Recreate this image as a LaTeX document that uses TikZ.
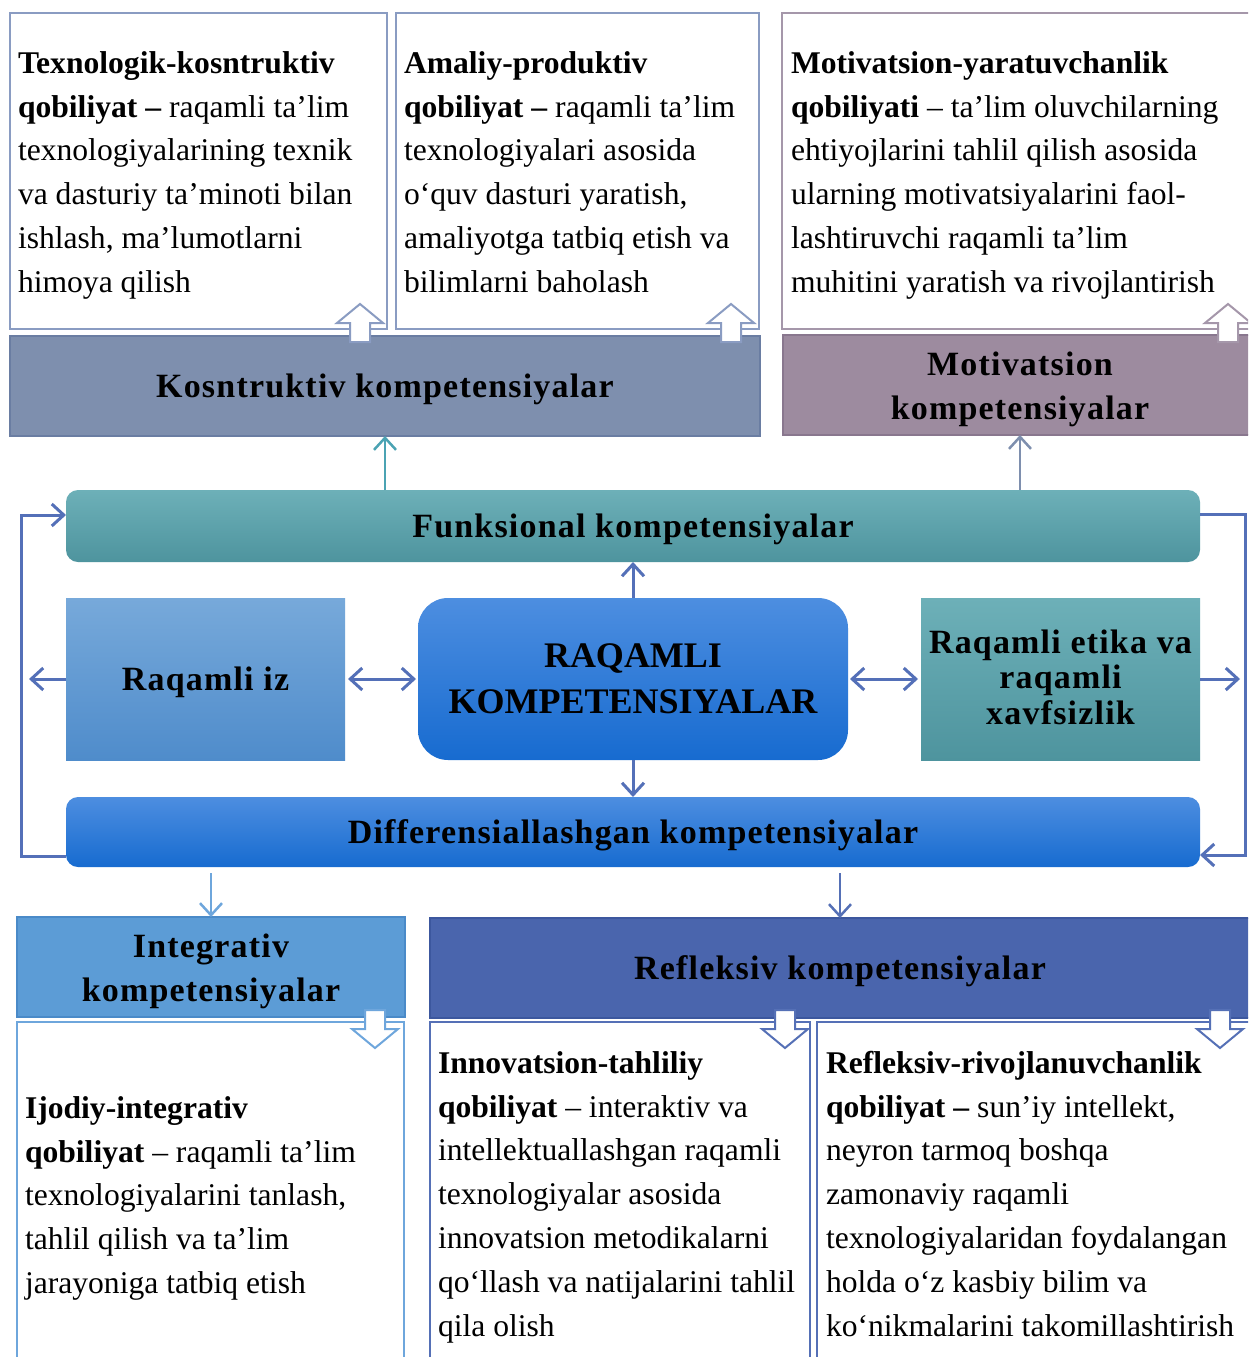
\documentclass[tikz,border=0pt]{standalone}
\usepackage{fontspec}
\setmainfont{Liberation Serif}
\newfontfamily\barfont[LetterSpace=3.5]{Liberation Serif}
\usetikzlibrary{arrows.meta}
\definecolor{boxline}{HTML}{8A9CC2}
\definecolor{kosfill}{HTML}{7E8FAE}
\definecolor{kosdraw}{HTML}{6A7DA2}
\definecolor{motline}{HTML}{A597AA}
\definecolor{motfill}{HTML}{9D8B9F}
\definecolor{motdraw}{HTML}{89778E}
\definecolor{funktop}{HTML}{6DB0B8}
\definecolor{funkbot}{HTML}{4E949E}
\definecolor{iztop}{HTML}{77A9DA}
\definecolor{izbot}{HTML}{4F8CCB}
\definecolor{centtop}{HTML}{4D8EE0}
\definecolor{centbot}{HTML}{176BD0}
\definecolor{connblue}{HTML}{5470B8}
\definecolor{tealarr}{HTML}{4BA3B3}
\definecolor{intfill}{HTML}{5C9CD6}
\definecolor{intdraw}{HTML}{4A8AC8}
\definecolor{intline}{HTML}{6EA6DC}
\definecolor{reffill}{HTML}{4A65AD}
\definecolor{refdraw}{HTML}{3C579E}
\definecolor{refline}{HTML}{5570B6}
\tikzset{
  >={Straight Barb[length=12pt,width=22pt]},
  pics/hollowup/.style={code={\draw[line width=2pt,draw=#1,fill=white,line join=miter]
     (-10,0) -- (-10,-19) -- (-23,-19) -- (0,-38) -- (23,-19) -- (10,-19) -- (10,0) -- cycle;}},
  pics/hollowdown/.style={code={\draw[line width=2pt,draw=#1,fill=white,line join=miter]
     (-10,0) -- (-10,19) -- (-23,19) -- (0,38) -- (23,19) -- (10,19) -- (10,0) -- cycle;}},
}
\begin{document}
\begin{tikzpicture}[x=1pt,y=-1pt,
  every node/.style={inner sep=0pt,outer sep=0pt},
  descbox/.style={draw=#1,line width=2.5pt,fill=white,rectangle},
  bartitle/.style={font=\barfont\bfseries\fontsize{34}{44}\selectfont,align=center},
  desctext/.style={font=\fontsize{31.6}{43.8}\selectfont,align=left,anchor=north west},
  conn/.style={draw=connblue,line width=3pt},
]
\path[use as bounding box,clip] (0,0) rectangle (1248,1357);
\fill[white] (0,0) rectangle (1248,1357);

% top description boxes
\node[descbox=boxline,minimum width=377pt,minimum height=316pt] (boxA) at (198.5,171) {};
\node[descbox=boxline,minimum width=363pt,minimum height=316pt] (boxB) at (577.5,171) {};
\node[descbox=motline,minimum width=475pt,minimum height=316pt] (boxC) at (1019.5,171) {};

\node[desctext] (txtA) at (18,42.6) {\strut\textbf{Texnologik-kosntruktiv}\\
\textbf{qobiliyat –} raqamli ta’lim\\
texnologiyalarining texnik\\
va dasturiy ta’minoti bilan\\
ishlash, ma’lumotlarni\\
himoya qilish};
\node[desctext] (txtB) at (404,42.6) {\strut\textbf{Amaliy-produktiv}\\
\textbf{qobiliyat –} raqamli ta’lim\\
texnologiyalari asosida\\
o‘quv dasturi yaratish,\\
amaliyotga tatbiq etish va\\
bilimlarni baholash};
\node[desctext] (txtC) at (791,42.6) {\strut\textbf{Motivatsion-yaratuvchanlik}\\
\textbf{qobiliyati} – ta’lim oluvchilarning\\
ehtiyojlarini tahlil qilish asosida\\
ularning motivatsiyalarini faol-\\
lashtiruvchi raqamli ta’lim\\
muhitini yaratish va rivojlantirish};

% top bars
\node[draw=kosdraw,fill=kosfill,line width=2.5pt,minimum width=750pt,minimum height=100pt,
      bartitle,text depth=0pt] (kos) at (385,386) {Kosntruktiv kompetensiyalar};
\node[draw=motdraw,fill=motfill,line width=2.5pt,minimum width=474pt,minimum height=100pt] (mot) at (1020,385) {};
\node[bartitle] (motT) at (1020,389) {Motivatsion\\kompetensiyalar};

\pic at (360,342) {hollowup=boxline};
\pic at (731,342) {hollowup=boxline};
\pic at (1228,342) {hollowup=motline};

% middle block
\node[rounded corners=12pt,top color=funktop,bottom color=funkbot,minimum width=1134pt,minimum height=72pt,
      bartitle,text depth=0pt] (funk) at (633,526) {Funksional kompetensiyalar};
\node[top color=iztop,bottom color=izbot,minimum width=279pt,minimum height=162pt,
      bartitle,text depth=0pt] (iz) at (205.5,679) {Raqamli iz};
\node[rounded corners=30pt,top color=centtop,bottom color=centbot,minimum width=430pt,minimum height=162pt,
      font=\bfseries\fontsize{36}{46}\selectfont,align=center] (cent) at (633,679) {RAQAMLI\\KOMPETENSIYALAR};
\node[top color=funktop,bottom color=funkbot,minimum width=279pt,minimum height=162pt] (etika) at (1060.5,679) {};
\node[bartitle,font=\barfont\bfseries\fontsize{34}{35.5}\selectfont] (etikaT) at (1060.5,677) {Raqamli etika va\\raqamli\\xavfsizlik};
\node[rounded corners=12pt,top color=centtop,bottom color=centbot,minimum width=1134pt,minimum height=70pt,
      bartitle,text depth=0pt] (diff) at (633,832) {Differensiallashgan kompetensiyalar};

% connectors in the middle
\draw[conn,<->,shorten <=3pt,shorten >=2pt] (iz.east) -- (cent.west);
\draw[conn,<->,shorten <=2pt,shorten >=3pt] (cent.east) -- (etika.west);
\draw[conn,->] (cent.north) -- (funk.south);
\draw[conn,->] (cent.south) -- (diff.north);
\coordinate (izout) at (29,679);
\coordinate (etout) at (1240,679);
\draw[conn,->] (iz.west) -- (izout);
\draw[conn,->] (etika.east) -- (etout);
\draw[conn,->] ([yshift=-24pt]diff.west) -- ++(-45,0) |- ([yshift=11pt]funk.west);
\draw[conn,->] ([yshift=12pt]funk.east) -- ++(45,0) |- ([yshift=-23pt]diff.east);

% arrows up to top bars
\draw[draw=tealarr,line width=2.5pt,->] (funk.north -| kos.south) -- (kos.south);
\draw[draw=kosfill,line width=2.5pt,->] (funk.north -| mot.south) -- (mot.south);

% bottom bars
\node[draw=intdraw,fill=intfill,line width=2.5pt,minimum width=388pt,minimum height=100pt] (integ) at (211,967) {};
\node[bartitle] (integT) at (211,971) {Integrativ\\kompetensiyalar};
\node[draw=refdraw,fill=reffill,line width=2.5pt,minimum width=820pt,minimum height=100pt,
      bartitle,text depth=0pt] (refl) at (840,968) {Refleksiv kompetensiyalar};

\path (diff.south -| integ.north) ++(0,6) coordinate (dI);
\path (diff.south -| refl.north) ++(0,6) coordinate (dR);
\draw[draw=intline,line width=2.5pt,->] (dI) -- (integ.north);
\draw[draw=refline,line width=2.5pt,->] (dR) -- (refl.north);

% bottom description boxes
\node[descbox=intline,minimum width=387pt,minimum height=360pt] (boxI) at (210.5,1202) {};
\node[descbox=refline,minimum width=380pt,minimum height=360pt] (boxN) at (620,1202) {};
\node[descbox=refline,minimum width=440pt,minimum height=360pt] (boxR) at (1037,1202) {};

\pic at (375,1010) {hollowdown=intline};
\pic at (785,1010) {hollowdown=refline};
\pic at (1220,1010) {hollowdown=refline};

\node[desctext] (txtI) at (25,1087.6) {\strut\textbf{Ijodiy-integrativ}\\
\textbf{qobiliyat} – raqamli ta’lim\\
texnologiyalarini tanlash,\\
tahlil qilish va ta’lim\\
jarayoniga tatbiq etish};
\node[desctext] (txtN) at (438,1042.6) {\strut\textbf{Innovatsion-tahliliy}\\
\textbf{qobiliyat} – interaktiv va\\
intellektuallashgan raqamli\\
texnologiyalar asosida\\
innovatsion metodikalarni\\
qo‘llash va natijalarini tahlil\\
qila olish};
\node[desctext] (txtR) at (826,1042.6) {\strut\textbf{Refleksiv-rivojlanuvchanlik}\\
\textbf{qobiliyat –} sun’iy intellekt,\\
neyron tarmoq boshqa\\
zamonaviy raqamli\\
texnologiyalaridan foydalangan\\
holda o‘z kasbiy bilim va\\
ko‘nikmalarini takomillashtirish};
\end{tikzpicture}
\end{document}
